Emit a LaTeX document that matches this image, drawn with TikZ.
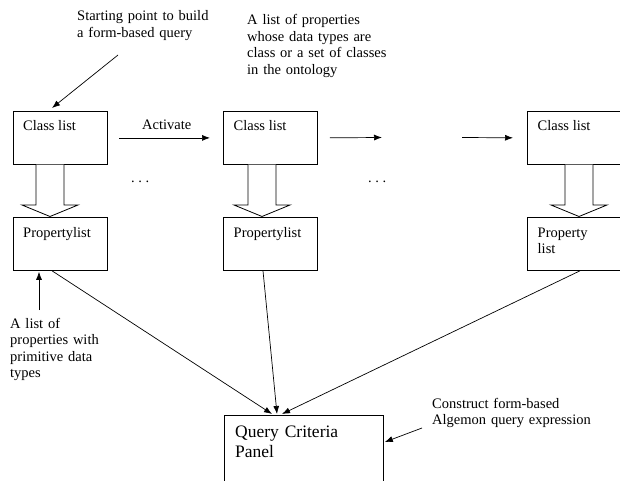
\documentclass[tikz,border=0pt]{standalone}
\usepackage{fontspec}
\setmainfont{Liberation Serif}
\usetikzlibrary{arrows.meta,calc}
\begin{document}
\begin{tikzpicture}[x=1pt,y=-1pt,
  lbl/.style={font=\fontsize{14.5}{16.5}\selectfont,inner sep=0pt,anchor=base west,align=left},
  box/.style={draw,line width=0.8pt,minimum width=94pt,minimum height=53pt,inner sep=0pt,anchor=north west},
  boxtext/.style={font=\fontsize{14.5}{16}\selectfont,inner sep=0pt,anchor=base west,align=left},
  con/.style={line width=0.7pt,-{Latex[length=8pt,width=6pt]}},
  hollow/.style={draw,line width=0.8pt,fill=white}]
\useasboundingbox (0,0) rectangle (620,481);
% boxes
\node[box] (c1) at (12.5,111) {};
\node[box] (c2) at (223,111) {};
\node[box,minimum width=100pt] (c3) at (527,111) {};
\node[box] (p1) at (12.5,217) {};
\node[box] (p2) at (223,217) {};
\node[box,minimum width=100pt] (p3) at (527,217) {};
\node[box,minimum width=159pt,minimum height=90pt] (q) at (224,415) {};
% box texts
\node[boxtext] (tc1) at ($(c1.north west)+(10.5,20)$) {Class list};
\node[boxtext] (tc2) at ($(c2.north west)+(10.5,20)$) {Class list};
\node[boxtext] (tc3) at ($(c3.north west)+(10.5,20)$) {Class list};
\node[boxtext] (tp1) at ($(p1.north west)+(10.5,20)$) {Propertylist};
\node[boxtext] (tp2) at ($(p2.north west)+(10.5,20)$) {Propertylist};
\node[boxtext,text width=80pt] (tp3) at ($(p3.north west)+(10.5,20)$) {Property\\list};
\node[font=\fontsize{17.5}{20}\selectfont,inner sep=0pt,anchor=base west,align=left,text width=140pt] (tq) at ($(q.north west)+(11,22)$) {Query Criteria\\Panel};
% hollow arrows
\foreach \n/\cx in {h1/50,h2/262,h3/579}{
  \draw[hollow] (\cx-14,164.5) -- (\cx-14,205) -- (\cx-28,205) -- (\cx,216.5) -- (\cx+28,205) -- (\cx+14,205) -- (\cx+14,164.5);
}
% annotations
\node[lbl,text width=150pt] (start) at (77,21) {Starting point to build\\a form-based query};
\node[lbl,text width=180pt] (props) at (247,25) {A list of properties\\whose data types are\\class or a set of classes\\in the ontology};
\node[lbl,text width=110pt] (prim) at (10,328) {A list of\\properties with\\primitive data\\types};
\node[lbl,text width=200pt] (cons) at (432,408) {Construct form-based\\Algemon query expression};
\node[lbl] (act) at (142,130) {Activate};
\node[lbl] (d1) at (131,182) {.\ .\ .};
\node[lbl] (d2) at (368,182) {.\ .\ .};
% coordinates
\coordinate (s0) at (118,55);
\coordinate (s1) at ($(c1.north west)+(39.5,-3)$);
\coordinate (a2e) at (382,137.5);
\coordinate (a3s) at (462,137.5);
\coordinate (pr0) at (39,310);
\coordinate (cn0) at (422,428);
% connectors
\draw[con] (s0) -- (s1);
\draw[con,shorten <=12pt,shorten >=13pt] (c1.east) -- (c2.west);
\draw[con,shorten <=12pt] (c2.east) -- (a2e);
\draw[con,shorten >=14pt] (a3s) -- (c3.west);
\draw[con] (pr0) -- ($(p1.south west)+(26.5,1)$);
\draw[con] ($(p1.south west)+(39.5,0)$) -- ($(q.north west)+(48,-1)$);
\draw[con] ($(p2.south west)+(40,0)$) -- ($(q.north west)+(53,-1)$);
\draw[con] ($(p3.south west)+(53,0)$) -- ($(q.north west)+(58,-1)$);
\draw[con] (cn0) -- ($(q.north east)+(1,27)$);
\end{tikzpicture}
\end{document}
